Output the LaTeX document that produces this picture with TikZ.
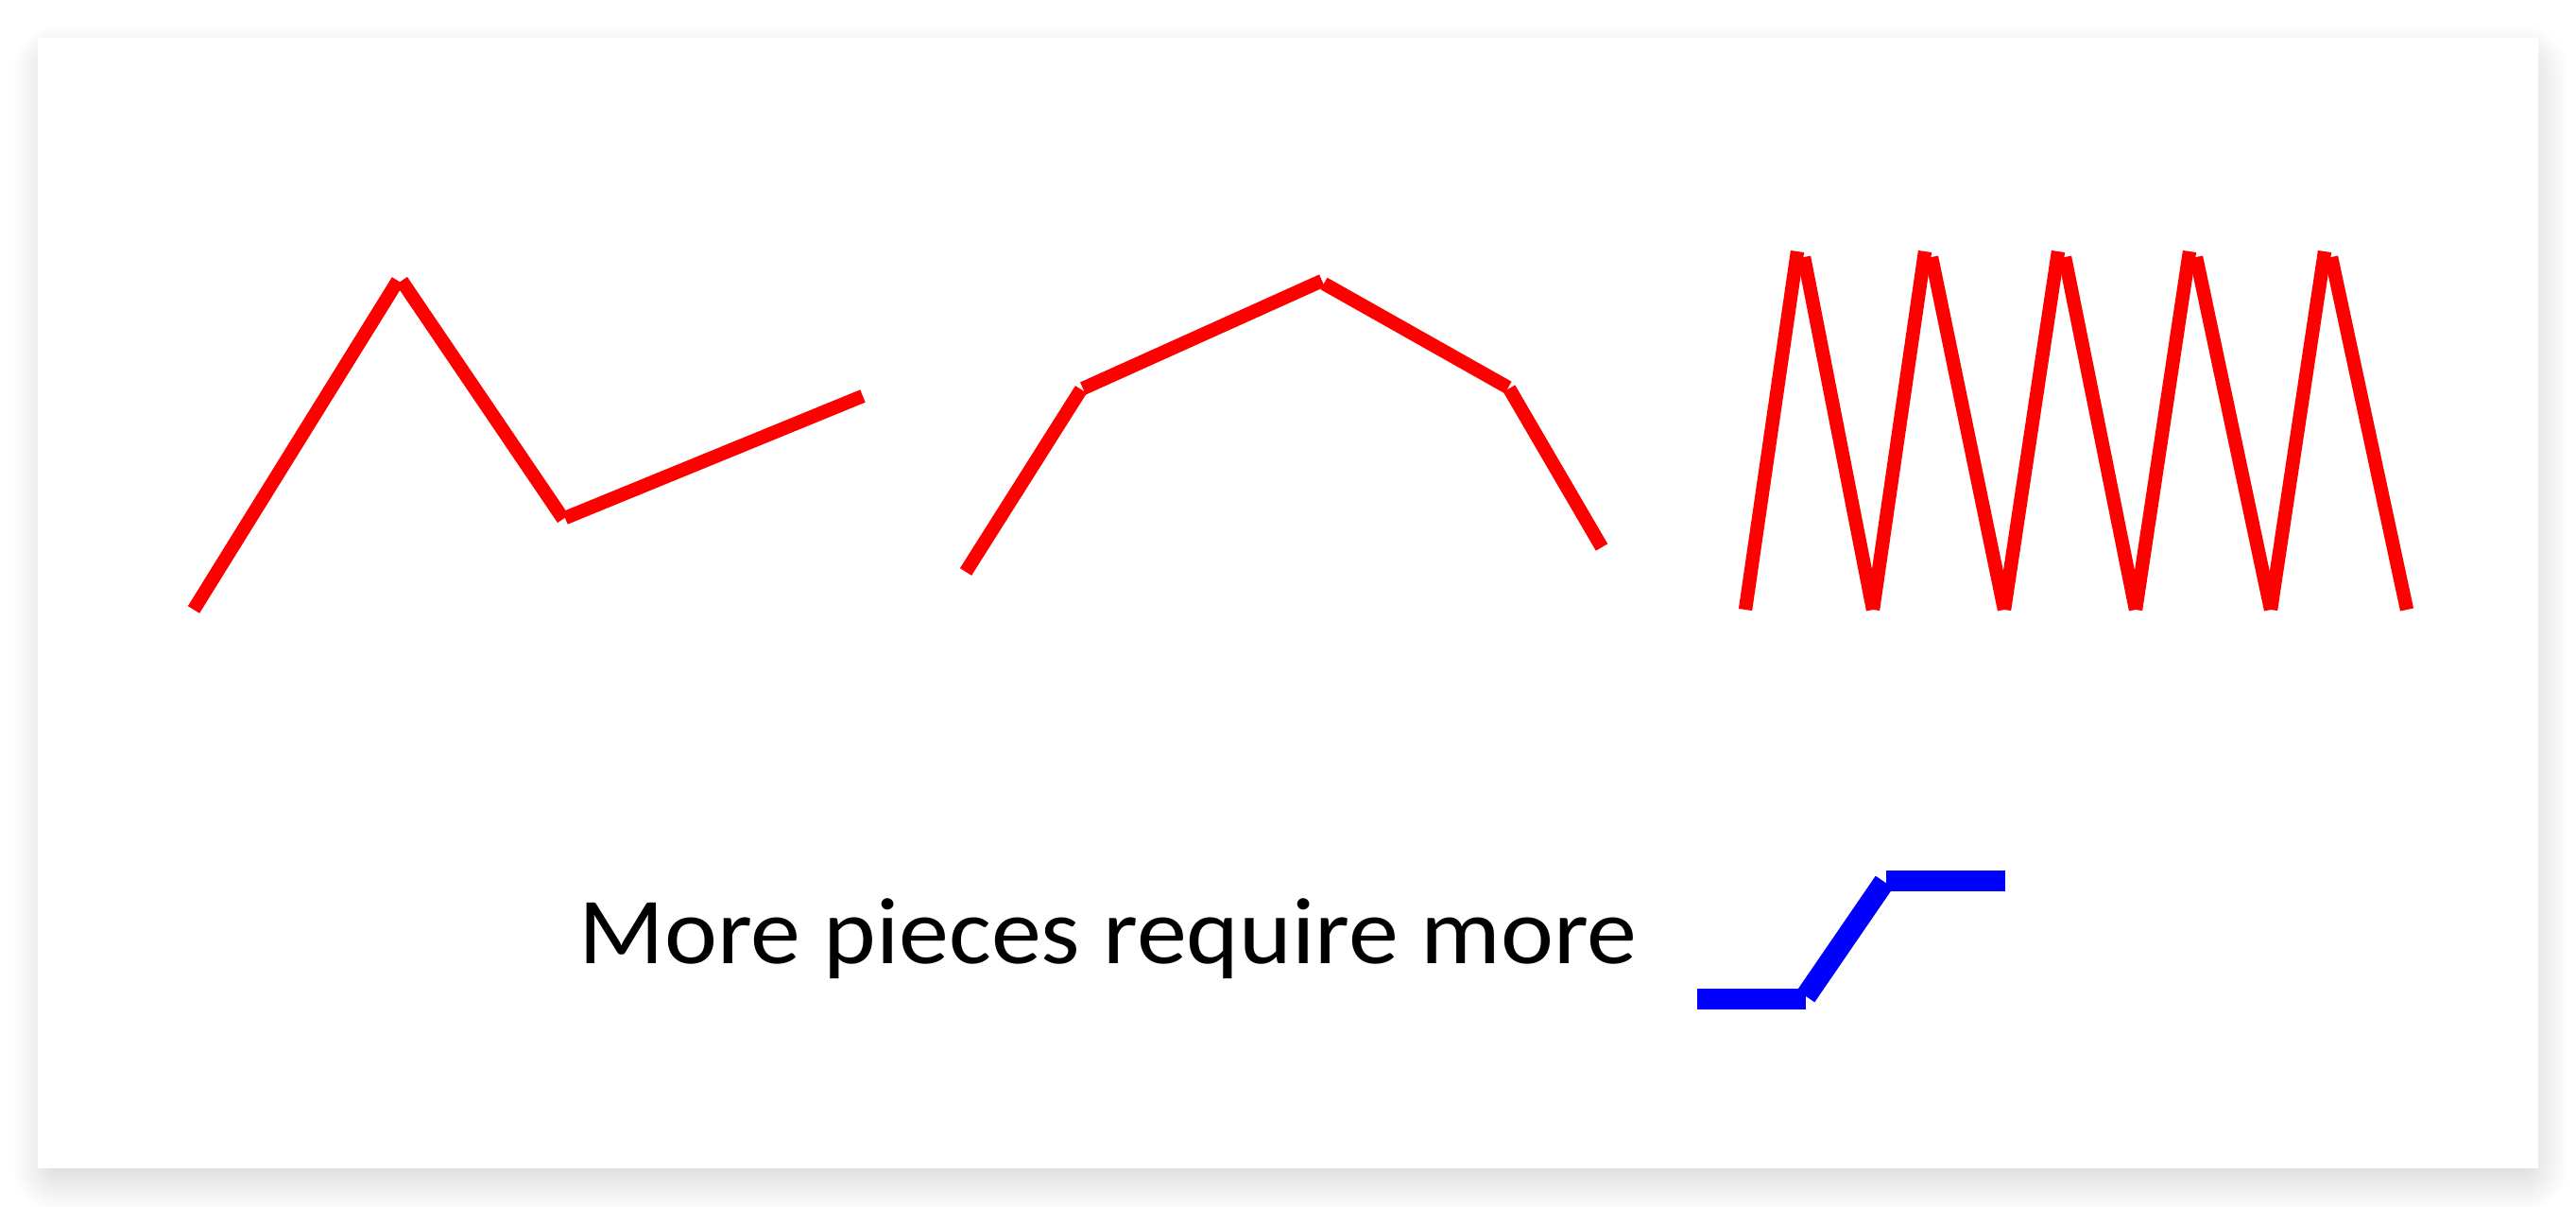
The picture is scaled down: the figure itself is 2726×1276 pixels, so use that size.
\documentclass[tikz,border=0pt]{standalone}
\usepackage{fontspec}
\setmainfont{Carlito}
\newfontfamily\capfont[FakeStretch=1.06]{Carlito}
\tikzset{
  redseg/.style={draw={rgb,255:red,255;green,0;blue,0}, line width=3.6pt, line cap=butt},
  blueseg/.style={draw={rgb,255:red,0;green,0;blue,255}, line width=5.6pt, line cap=butt},
  caption/.style={font=\capfont\fontsize{25pt}{30pt}\selectfont, inner sep=0pt, anchor=base west}
}
\begin{document}
\begin{tikzpicture}[x=0.25pt,y=-0.25pt]
\useasboundingbox (0,0) rectangle (2726,1276);
\fill[white] (0,0) rectangle (2726,1276);
% soft shadow
\foreach \i in {0,...,30}{
  \pgfmathsetmacro{\e}{\i*1.5}
  \fill[black, opacity=0.0055, rounded corners=\e*0.25pt+1pt]
    (58-\e,72-\e) rectangle (2673+\e,1237+\e);
}
% page
\fill[white] (40,40) rectangle (2686,1236);

% polyline 1
\coordinate (a1) at (205,645);
\coordinate (a2) at (421,297);
\coordinate (a2b) at (425,297);
\coordinate (a3) at (596,549);
\coordinate (a3b) at (598,548);
\coordinate (a4) at (913,419);
\draw[redseg] (a1) -- (a2);
\draw[redseg] (a2b) -- (a3);
\draw[redseg] (a3b) -- (a4);

% polyline 2
\coordinate (b1) at (1022,605);
\coordinate (b2) at (1144,412);
\coordinate (b2b) at (1146,411);
\coordinate (b3) at (1399,297);
\coordinate (b3b) at (1401,300);
\coordinate (b4) at (1596,410);
\coordinate (b4b) at (1597,411);
\coordinate (b5) at (1695,579);
\draw[redseg] (b1) -- (b2);
\draw[redseg] (b2b) -- (b3);
\draw[redseg] (b3b) -- (b4);
\draw[redseg] (b4b) -- (b5);

% zigzag
\foreach \bx/\tx/\nx [count=\k] in {1847/1902/1982, 1982/2037/2121, 2121/2178/2260, 2260/2317/2403, 2403/2460/2547}{
  \coordinate (zb\k) at (\bx,645);
  \coordinate (zt\k) at (\tx,266);
  \coordinate (zs\k) at (\tx+7,272);
  \coordinate (ze\k) at (\nx,645);
  \draw[redseg] (zb\k) -- (zt\k);
  \draw[redseg] (zs\k) -- (ze\k);
}

% caption
\node[caption] (cap) at (612,1019) {More pieces require more};

% blue step
\coordinate (c1) at (1796,1057);
\coordinate (c2) at (1911,1057);
\coordinate (c2b) at (1911,1054);
\coordinate (c3) at (1994,933);
\coordinate (c3b) at (1996,932);
\coordinate (c4) at (2122,932);
\draw[blueseg] (c1) -- (c2);
\draw[blueseg] (c2b) -- (c3);
\draw[blueseg] (c3b) -- (c4);
\end{tikzpicture}
\end{document}
